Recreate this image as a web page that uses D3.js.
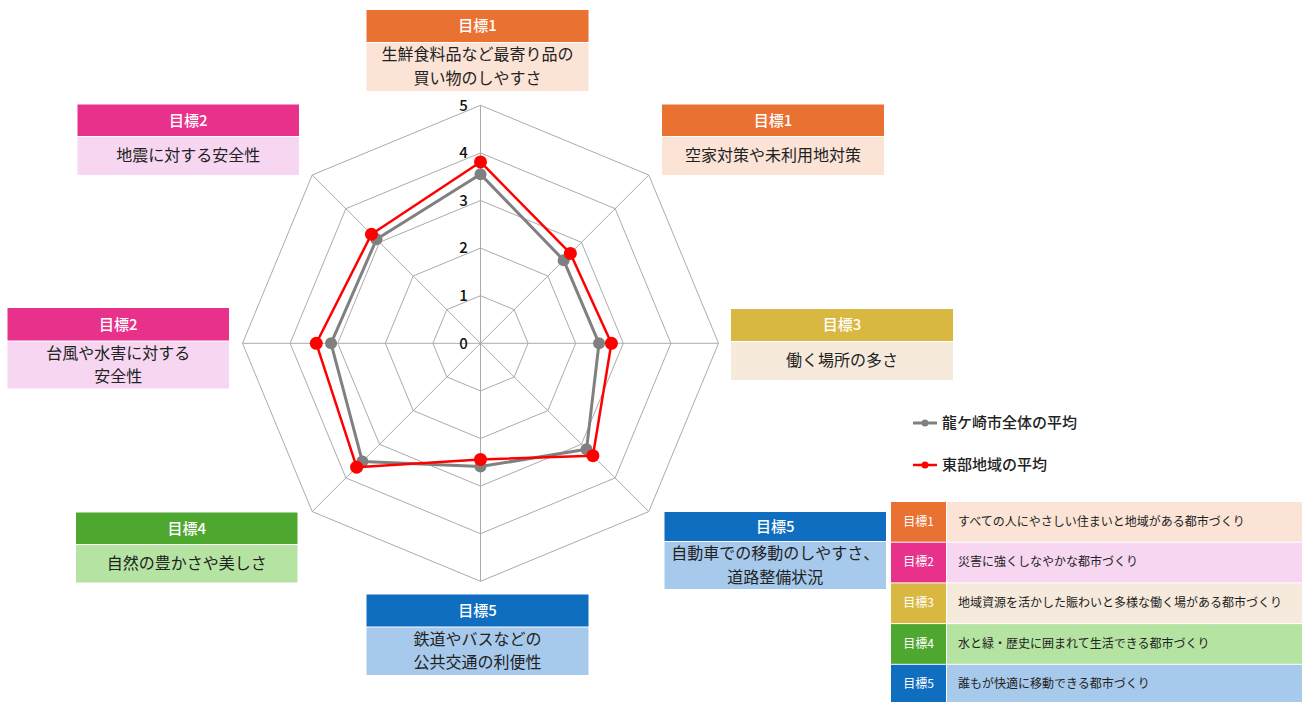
<!DOCTYPE html>
<meta charset="utf-8">
<style>
body { margin: 0; background: #fff; font-family: "Noto Sans CJK JP", "Noto Sans", sans-serif; }
.grid { fill: none; stroke: #ababab; stroke-width: 1; }
</style>
<body>
<div id="chart"></div>
<script src="https://d3js.org/d3.v7.min.js"></script>
<script>
// categories (clockwise from top)
var goals = ["目標1", "目標1", "目標3", "目標5", "目標5", "目標4", "目標2", "目標2"];
var axisLabels = [
  ["生鮮食料品など最寄り品の", "買い物のしやすさ"],
  ["空家対策や未利用地対策"],
  ["働く場所の多さ"],
  ["自動車での移動のしやすさ、", "道路整備状況"],
  ["鉄道やバスなどの", "公共交通の利便性"],
  ["自然の豊かさや美しさ"],
  ["台風や水害に対する", "安全性"],
  ["地震に対する安全性"]
];
var seriesNames = ["龍ケ崎市全体の平均", "東部地域の平均"];
var cityAvg = [3.55, 2.47, 2.49, 3.15, 2.59, 3.51, 3.14, 3.09];
var eastAvg = [3.81, 2.67, 2.75, 3.34, 2.44, 3.68, 3.45, 3.24];
var ticks = [0, 1, 2, 3, 4, 5];
var goalIds = ["目標1", "目標2", "目標3", "目標4", "目標5"];
var goalTexts = [
  "すべての人にやさしい住まいと地域がある都市づくり",
  "災害に強くしなやかな都市づくり",
  "地域資源を活かした賑わいと多様な働く場がある都市づくり",
  "水と緑・歴史に囲まれて生活できる都市づくり",
  "誰もが快適に移動できる都市づくり"
];

var goalColor = {
  "目標1": {head: "#E97132", body: "#FBE3D6"},
  "目標2": {head: "#E8318A", body: "#F6D6F1"},
  "目標3": {head: "#D9B841", body: "#F6EADC"},
  "目標4": {head: "#4EA72E", body: "#B5E4A2"},
  "目標5": {head: "#0F6EC0", body: "#A6C9EC"}
};

var W = 1303, H = 702;
var cx = 480.5, cy = 343.3, R = 238;

var svg = d3.select("#chart").append("svg")
  .attr("width", W).attr("height", H);

var r = d3.scaleLinear().domain([0, 5]).range([0, R]);
var ang = d3.scaleLinear().domain([0, goals.length]).range([0, 2 * Math.PI]);

function pt(i, v) {
  var a = ang(i);
  return [cx + r(v) * Math.sin(a), cy - r(v) * Math.cos(a)];
}

// grid polygons
ticks.slice(1).forEach(function(t) {
  svg.append("polygon").attr("class", "grid")
    .attr("points", goals.map(function(g, i) { return pt(i, t).join(","); }).join(" "));
});
goals.forEach(function(g, i) {
  var p = pt(i, 5);
  svg.append("line").attr("class", "grid")
    .attr("x1", cx).attr("y1", cy).attr("x2", p[0]).attr("y2", p[1]);
});

// tick labels
svg.selectAll(".tick").data(ticks).enter().append("text")
  .attr("x", cx - 17).attr("y", function(d) { return cy - r(d); })
  .attr("dy", "0.35em").attr("text-anchor", "middle")
  .style("font-size", "15px").style("font-weight", "500").style("fill", "#111")
  .text(function(d) { return d; });

// series
var series = [
  {name: seriesNames[0], values: cityAvg, color: "#808080", width: 3, rad: 6},
  {name: seriesNames[1], values: eastAvg, color: "#FF0000", width: 2.5, rad: 6.5}
];
var line = d3.line().curve(d3.curveLinearClosed);
series.forEach(function(s) {
  var pts = s.values.map(function(v, i) { return pt(i, v); });
  svg.append("path").attr("d", line(pts))
    .attr("fill", "none").attr("stroke", s.color).attr("stroke-width", s.width)
    .attr("stroke-linejoin", "round");
  svg.append("g").selectAll("circle").data(pts).enter().append("circle")
    .attr("cx", function(d) { return d[0]; }).attr("cy", function(d) { return d[1]; })
    .attr("r", s.rad).attr("fill", s.color);
});

// axis label boxes: [x, y, w, headH, bodyH]
var boxes = [
  [366.5, 10, 222, 32, 49],
  [662, 104.5, 222, 31.5, 39],
  [731, 309, 222, 32, 39],
  [664.5, 512, 221.5, 29, 48],
  [366.5, 594.5, 222, 32, 48.5],
  [76, 512.5, 221.5, 31.5, 38.5],
  [7.5, 308, 221.5, 32.5, 48],
  [77.5, 104.5, 221.5, 31.5, 39]
];
goals.forEach(function(g, i) {
  var b = boxes[i], c = goalColor[g];
  var grp = svg.append("g");
  grp.append("rect").attr("x", b[0]).attr("y", b[1]).attr("width", b[2]).attr("height", b[3])
    .attr("fill", c.head);
  grp.append("rect").attr("x", b[0]).attr("y", b[1] + b[3] + 1).attr("width", b[2]).attr("height", b[4] - 1)
    .attr("fill", c.body);
  grp.append("text").attr("x", b[0] + b[2] / 2).attr("y", b[1] + b[3] / 2)
    .attr("dy", "0.36em").attr("text-anchor", "middle")
    .style("font-size", "15px").style("font-weight", "500").style("fill", "#fff")
    .text(g);
  var lines = axisLabels[i];
  var top = b[1] + b[3] + (lines.length === 1 ? 19 : 12.5);
  var txt = grp.append("text").attr("text-anchor", "middle")
    .style("font-size", "16px").style("fill", "#222");
  lines.forEach(function(t, j) {
    txt.append("tspan").attr("x", b[0] + b[2] / 2).attr("y", top + j * 23.5)
      .attr("dy", "0.36em").text(t);
  });
});

// legend
series.forEach(function(s, i) {
  var y = 423 + i * 42;
  svg.append("line").attr("x1", 913).attr("x2", 937).attr("y1", y).attr("y2", y)
    .attr("stroke", s.color).attr("stroke-width", s.width);
  svg.append("circle").attr("cx", 925).attr("cy", y).attr("r", 3.5).attr("fill", s.color);
  svg.append("text").attr("x", 942).attr("y", y).attr("dy", "0.36em")
    .style("font-size", "15px").style("font-weight", "500").style("fill", "#222")
    .text(s.name);
});

// goal table
var tx = 891, ty = 502, rowH = 40.7, c1 = 55, tw = 410;
goalIds.forEach(function(g, i) {
  var y = ty + i * rowH, c = goalColor[g];
  svg.append("rect").attr("x", tx).attr("y", y).attr("width", c1).attr("height", rowH - 1)
    .attr("fill", c.head);
  svg.append("rect").attr("x", tx + c1 + 1).attr("y", y).attr("width", tw - c1).attr("height", rowH - 1)
    .attr("fill", c.body);
  svg.append("text").attr("x", tx + c1 / 2).attr("y", y + rowH / 2 - 1).attr("dy", "0.36em")
    .attr("text-anchor", "middle")
    .style("font-size", "12px").style("fill", "#fff").text(g);
  svg.append("text").attr("x", tx + c1 + 12).attr("y", y + rowH / 2 - 1).attr("dy", "0.36em")
    .style("font-size", "12px").style("fill", "#222").text(goalTexts[i]);
});
</script>
</body>
